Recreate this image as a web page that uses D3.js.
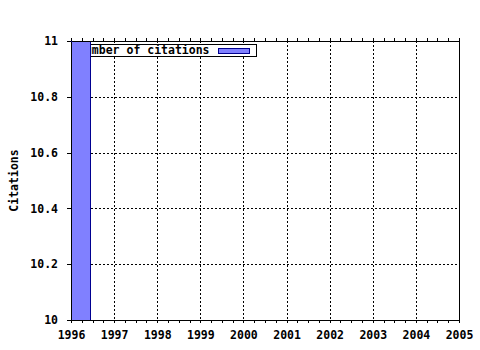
<!DOCTYPE html>
<html>
  <head>
    <meta charset="utf-8">
    <title>Citations</title>
    <script src="https://d3js.org/d3.v7.min.js"></script>
    <style>
      body { margin: 0; background: #fff; }
      svg { display: block; font-family: "DejaVu Sans Mono", monospace; font-weight: bold; }
      .axis path, .axis line { stroke: #000; shape-rendering: crispEdges; }
      .axis text { fill: #000; font-size: 11.5px; font-family: "DejaVu Sans Mono", monospace; font-weight: bold; }
      .grid line { stroke: #000; stroke-dasharray: 2,2; shape-rendering: crispEdges; }
    </style>
  </head>
  <body>
    <svg id="chart" width="480" height="350"></svg>
    <script>
      // data
      const years = [1996];
      const citations = [11];
      const yearTicks = [1996, 1997, 1998, 1999, 2000, 2001, 2002, 2003, 2004, 2005];
      const valueTicks = [10, 10.2, 10.4, 10.6, 10.8, 11];
      const seriesName = "Number of citations";
      const yTitle = "Citations";

      const margin = { top: 41, right: 21, bottom: 30, left: 71 };
      const width = 480 - margin.left - margin.right;
      const height = 350 - margin.top - margin.bottom;
      const barWidth = 0.46; // in years

      const svg = d3.select("#chart");
      const g = svg.append("g")
        .attr("transform", "translate(" + margin.left + "," + margin.top + ")");

      const x = d3.scaleLinear().domain([1996, 2005]).range([0, width]);
      const y = d3.scaleLinear().domain([10, 11]).range([height, 0]);

      // clip to plot area
      svg.append("defs").append("clipPath").attr("id", "plot")
        .append("rect").attr("width", width).attr("height", height);

      // grid
      const grid = g.append("g").classed("grid", true);
      grid.selectAll(".v")
          .data(yearTicks.slice(1, -1))
        .enter().append("line")
          .attr("x1", d => Math.round(x(d)) + 0.5).attr("x2", d => Math.round(x(d)) + 0.5)
          .attr("y1", 0).attr("y2", height);
      grid.selectAll(".h")
          .data(valueTicks.slice(1, -1))
        .enter().append("line")
          .attr("y1", d => Math.round(y(d)) + 0.5).attr("y2", d => Math.round(y(d)) + 0.5)
          .attr("x1", 0).attr("x2", width);

      const plot = g.append("g").attr("clip-path", "url(#plot)");

      // legend (sits under the bar and gets clipped)
      const legend = plot.append("g").attr("transform", "translate(4,3)");
      legend.append("rect")
        .attr("x", 0.5).attr("y", 0.5)
        .attr("width", 181).attr("height", 12)
        .attr("fill", "#fff").attr("stroke", "#000");
      legend.append("text")
        .attr("x", 3).attr("y", 10)
        .style("font-size", "11.5px")
        .text(seriesName);
      legend.append("rect")
        .attr("x", 143.5).attr("y", 4.5)
        .attr("width", 31).attr("height", 5)
        .attr("fill", "#8080ff").attr("stroke", "#000090");

      // bars
      plot.selectAll(".bar")
          .data(years)
        .enter().append("rect")
          .classed("bar", true)
          .attr("x", (d) => Math.round(x(d)) + 0.5)
          .attr("y", (d, i) => y(citations[i]) - 2)
          .attr("width", d => Math.round(x(d + barWidth) - x(d)) - 1)
          .attr("height", (d, i) => height - y(citations[i]) + 2)
          .attr("fill", "#8080ff")
          .attr("stroke", "#000090")
          .style("shape-rendering", "crispEdges");

      // axes
      const minor = d3.range(1996, 2005.01, 0.25);
      g.append("g").classed("axis", true)
        .attr("transform", "translate(0," + height + ")")
        .call(d3.axisBottom(x).tickValues(minor).tickSize(3).tickSizeOuter(0).tickFormat(""));
      g.append("g").classed("axis", true)
        .attr("transform", "translate(0," + height + ")")
        .call(d3.axisBottom(x).tickValues(yearTicks).tickSize(3).tickSizeOuter(0).tickPadding(8).tickFormat(d3.format("d")));
      g.append("g").classed("axis", true)
        .call(d3.axisTop(x).tickValues(minor).tickSize(3).tickSizeOuter(0).tickFormat(""));
      g.append("g").classed("axis", true)
        .call(d3.axisLeft(y).tickValues(valueTicks).tickSize(4).tickSizeOuter(0).tickPadding(9)
          .tickFormat(d => String(+d.toFixed(1))));
      g.append("g").classed("axis", true)
        .attr("transform", "translate(" + width + ",0)")
        .call(d3.axisRight(y).tickValues([]).tickSizeOuter(0));

      // y title
      svg.append("text")
        .attr("transform", "translate(18," + (margin.top + height / 2) + ") rotate(-90)")
        .attr("text-anchor", "middle")
        .style("font-size", "11.5px")
        .text(yTitle);
    </script>
  </body>
</html>
